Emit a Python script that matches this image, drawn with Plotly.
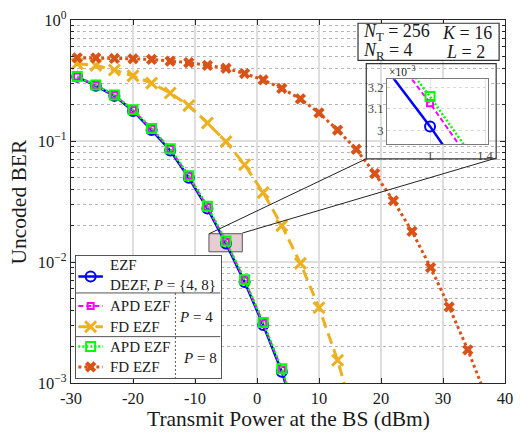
import plotly.graph_objects as go

# ---------------- data ----------------
power = [-29, -26, -23, -20, -17, -14, -11, -8, -5, -2, 1, 4, 7]
ber_ezf = [0.339, 0.286, 0.236, 0.177, 0.123, 0.0835, 0.0496, 0.0277, 0.0142,
           0.00682, 0.00302, 0.00124, 0.00040]
ber_apd4 = [0.341, 0.289, 0.239, 0.180, 0.126, 0.0857, 0.0511, 0.0286, 0.0147,
            0.00707, 0.003127, 0.00129, 0.00042]
ber_apd8 = [0.342, 0.290, 0.240, 0.181, 0.127, 0.0863, 0.0516, 0.0289, 0.0149,
            0.00714, 0.003158, 0.00131, 0.00043]
power_fd4 = [-29, -26, -23, -20, -17, -14, -11, -8, -5, -2, 1, 4, 7, 10, 13, 16]
ber_fd4 = [0.435, 0.422, 0.386, 0.345, 0.301, 0.249, 0.196, 0.141, 0.0988, 0.0637,
           0.0374, 0.0200, 0.00975, 0.00419, 0.00154, 0.00045]
power_fd8 = [-29, -26, -23, -20, -17, -14, -11, -8, -5, -2, 1, 4, 7, 10, 13, 16,
             19, 22, 25, 28, 31, 34, 37]
ber_fd8 = [0.487, 0.487, 0.481, 0.478, 0.472, 0.457, 0.444, 0.422, 0.399, 0.361,
           0.320, 0.272, 0.223, 0.171, 0.123, 0.0855, 0.0538, 0.0321, 0.0179,
           0.0090, 0.00425, 0.00188, 0.00076]

x_ticks = [-30, -20, -10, 0, 10, 20, 30, 40]
x_ticktext = ["-30", "-20", "-10", "0", "10", "20", "30", "40"]
y_ticks = [1e-3, 1e-2, 1e-1, 1]
y_ticktext = ["10<sup>−3</sup>", "10<sup>−2</sup>", "10<sup>−1</sup>", "10<sup>0</sup>"]
inset_xticks = [1, 1.4]
inset_xticktext = ["1", "1.4"]
inset_yticks = [3.0e-3, 3.1e-3, 3.2e-3]
inset_yticktext = ["3", "3.1", "3.2"]

# zoom box shown on the main axes (data units)
zoom_box_x = [-7.75, -2.37]
zoom_box_y = [0.01214, 0.01713]

# ---------------- styles ----------------
FONT = "Liberation Serif"
BLUE = "rgb(0,0,255)"
MAG = "rgb(255,0,255)"
YEL = "rgb(237,177,32)"
GRN = "rgb(0,255,0)"
RED = "rgb(217,83,25)"
AX = "#262626"

W, H = 522, 437
ML, MR, MT, MB = 71, 9, 15, 54
PW, PH = W - ML - MR, H - MT - MB


def px(x):
    return (x - ML) / PW


def py(y):
    return (H - MB - y) / PH


styles = {
    "ezf": dict(line=dict(color=BLUE, width=2.5), marker=dict(symbol="circle-open", size=10, color=BLUE, line=dict(width=2, color=BLUE))),
    "apd4": dict(line=dict(color=MAG, width=2, dash="5px,3px"), marker=dict(symbol="square-open", size=6, color=MAG, line=dict(width=2, color=MAG))),
    "fd4": dict(line=dict(color=YEL, width=3, dash="11px,6px"), marker=dict(symbol="x-thin-open", size=11, color=YEL, line=dict(width=3, color=YEL))),
    "apd8": dict(line=dict(color=GRN, width=2.5, dash="2px,2px"), marker=dict(symbol="square-open", size=9, color=GRN, line=dict(width=2, color=GRN))),
    "fd8": dict(line=dict(color=RED, width=3, dash="3px,3px"), marker=dict(symbol="x", size=10, color=RED, line=dict(width=0, color=RED))),
}

fig = go.Figure()

series = [
    ("ezf", power, ber_ezf),
    ("apd4", power, ber_apd4),
    ("fd4", power_fd4, ber_fd4),
    ("apd8", power, ber_apd8),
    ("fd8", power_fd8, ber_fd8),
]

# zoom box as a filled trace under the curves
fig.add_trace(go.Scatter(
    x=[zoom_box_x[0], zoom_box_x[1], zoom_box_x[1], zoom_box_x[0], zoom_box_x[0]],
    y=[zoom_box_y[0], zoom_box_y[0], zoom_box_y[1], zoom_box_y[1], zoom_box_y[0]],
    mode="lines", fill="toself", fillcolor="rgb(230,205,212)",
    line=dict(color="#555", width=1), showlegend=False, hoverinfo="skip",
    xaxis="x", yaxis="y"))

for key, xs, ys in series:
    fig.add_trace(go.Scatter(x=xs, y=ys, mode="lines+markers", showlegend=False,
                             xaxis="x", yaxis="y", **styles[key]))

# inset
for key, xs, ys in series:
    if key.startswith("fd"):
        continue
    fig.add_trace(go.Scatter(x=xs, y=ys, mode="lines+markers", showlegend=False,
                             xaxis="x2", yaxis="y2", **styles[key]))

# legend samples (legend drawn on its own pixel-coordinate axes)
leg_rows = [("ezf", 275.0), ("apd4", 305.0), ("fd4", 326.0), ("apd8", 346.0), ("fd8", 366.7)]
for key, ry in leg_rows:
    st = styles[key]
    fig.add_trace(go.Scatter(x=[78.5, 103.5], y=[ry, ry], mode="lines", line=st["line"],
                             showlegend=False, xaxis="x3", yaxis="y3", hoverinfo="skip"))
    fig.add_trace(go.Scatter(x=[91.0], y=[ry], mode="markers", marker=st["marker"],
                             showlegend=False, xaxis="x3", yaxis="y3", hoverinfo="skip"))

minor_vals = [k * 10 ** e for e in (-3, -2, -1) for k in range(2, 10)]

fig.update_layout(
    width=W, height=H,
    margin=dict(l=ML, r=MR, t=MT, b=MB),
    paper_bgcolor="white", plot_bgcolor="white",
    font=dict(family=FONT, size=14, color="#1a1a1a"),
    xaxis=dict(range=[-30, 40], tickvals=x_ticks, ticktext=x_ticktext, ticks="inside",
               ticklen=5, tickcolor=AX, showline=True, linecolor=AX, linewidth=1.2,
               mirror="ticks", showgrid=True, gridcolor="#dedede", gridwidth=1.5,
               zeroline=False, tickfont=dict(size=16.5), domain=[0, 1]),
    yaxis=dict(type="log", range=[-3, 0], tickvals=y_ticks, ticktext=y_ticktext,
               ticks="inside", ticklen=5, tickcolor=AX, showline=True, linecolor=AX,
               linewidth=1.2, mirror="ticks", showgrid=True, gridcolor="#dedede",
               gridwidth=1.5, zeroline=False, tickfont=dict(size=16.5), domain=[0, 1],
               minor=dict(tickmode="array", tickvals=minor_vals, ticks="inside", ticklen=3,
                          tickcolor=AX, showgrid=True, griddash="dot",
                          gridcolor="#b4b4b4", gridwidth=1)),
    xaxis2=dict(domain=[px(392.7), px(496)], anchor="y2", range=[0.686, 1.424],
                tickvals=inset_xticks, ticktext=inset_xticktext, ticks="",
                showline=True, linecolor="#7a7a7a", linewidth=1, mirror=True,
                showgrid=True, gridcolor="#e6e6e6", zeroline=False,
                tickfont=dict(size=12.5, color="#444")),
    yaxis2=dict(domain=[py(141), py(75)], anchor="x2", type="log",
                range=[-2.53165, -2.48922], tickvals=inset_yticks, ticktext=inset_yticktext,
                ticks="", showline=True, linecolor="#7a7a7a", linewidth=1, mirror=True,
                showgrid=True, gridcolor="#d8d8d8", griddash="dot", zeroline=False,
                tickfont=dict(size=12.5, color="#444")),
    xaxis3=dict(domain=[px(76), px(223.3)], anchor="y3", range=[76, 223.3],
                showgrid=False, zeroline=False, showticklabels=False, ticks="",
                showline=True, linecolor="#555", linewidth=1, mirror=True, fixedrange=True),
    yaxis3=dict(domain=[py(378.3), py(254.3)], anchor="x3", range=[378.3, 254.3],
                showgrid=False, zeroline=False, showticklabels=False, ticks="",
                showline=True, linecolor="#555", linewidth=1, mirror=True, fixedrange=True),
)

shapes = []
# connector lines
shapes.append(dict(type="line", xref="paper", yref="paper", x0=px(211.7), y0=py(231.7),
                   x1=px(371.7), y1=py(155.7), line=dict(color="#222", width=1), layer="above"))
shapes.append(dict(type="line", xref="paper", yref="paper", x0=px(245.5), y0=py(231.0),
                   x1=px(504), y1=py(155.0), line=dict(color="#222", width=1), layer="above"))
# inset frame
shapes.append(dict(type="rect", xref="paper", yref="paper", x0=px(371.7), x1=px(504),
                   y0=py(155.7), y1=py(59.3), line=dict(color="#333", width=1.2),
                   fillcolor="rgba(0,0,0,0)", layer="above"))
# parameter text box
shapes.append(dict(type="rect", xref="paper", yref="paper", x0=px(363.3), x1=px(507),
                   y0=py(56), y1=py(18.3), line=dict(color="#333", width=1.2),
                   fillcolor="white", layer="above"))
# legend separators
for sy in (291.7, 336.0):
    shapes.append(dict(type="line", xref="x3", yref="y3", x0=76, x1=223.3, y0=sy, y1=sy,
                       line=dict(color="#555", width=1), layer="above"))
shapes.append(dict(type="line", xref="x3", yref="y3", x0=177.3, x1=177.3, y0=291.7, y1=378.3,
                   line=dict(color="#555", width=1, dash="2px,2px"), layer="above"))
fig.update_layout(shapes=shapes)

ann = []


def add_text(text, x, y, size=15, xanchor="left", **kw):
    ann.append(dict(text=text, x=px(x), y=py(y), xref="paper", yref="paper",
                    xanchor=xanchor, yanchor="middle", showarrow=False,
                    font=dict(family=FONT, size=size, color="#1a1a1a"), **kw))


# axis titles
add_text("Transmit Power at the BS (dBm)", 293, 420, size=21.5, xanchor="center")
add_text("Uncoded BER", 18, 199, size=21.5, xanchor="center", textangle=-90)
# parameter box
add_text("<i>N</i><sub>T</sub> = 256", 366, 28, size=18)
add_text("<i>K</i> = 16", 502, 28, size=18, xanchor="right")
add_text("<i>N</i><sub>R</sub> = 4", 366, 47, size=18)
add_text("<i>L</i> = 2", 495, 47, size=18, xanchor="right")
# inset exponent
add_text("×10<sup>−3</sup>", 393, 67, size=11.5)
# legend
add_text("EZF", 109, 263.5)
add_text("DEZF, <i>P</i> = {4, 8}", 109, 283.5)
add_text("APD EZF", 109, 305)
add_text("FD EZF", 109, 326)
add_text("<i>P</i> = 4", 198, 316.5, xanchor="center")
add_text("APD EZF", 109, 346)
add_text("FD EZF", 109, 366.7)
add_text("<i>P</i> = 8", 202, 357.5, xanchor="center")
fig.update_layout(annotations=ann)

fig.write_html("out.html", config={"displayModeBar": False},
               post_script="document.body.style.margin='0px';")
